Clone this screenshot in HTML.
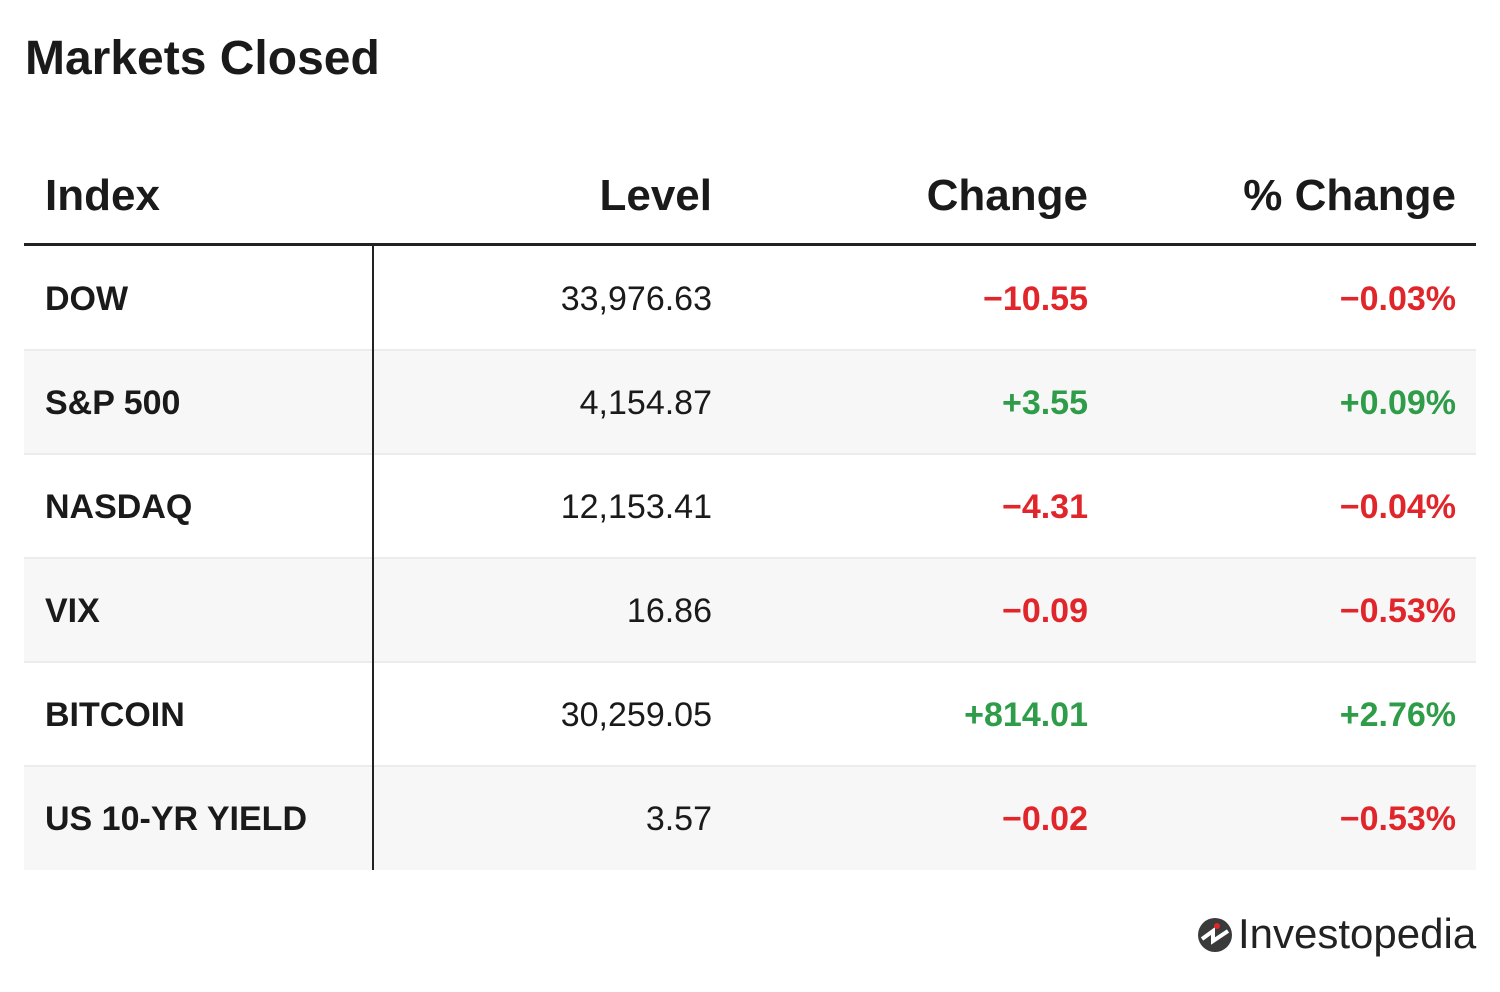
<!DOCTYPE html>
<html><head><meta charset="utf-8"><style>
body{margin:0;width:1500px;height:992px;background:#fff;font-family:"Liberation Sans",sans-serif;color:#1a1a1a;position:relative;overflow:hidden}
.t{position:absolute;white-space:nowrap;line-height:1}
h1{position:absolute;left:25px;top:35px;margin:0;font-size:48px;font-weight:bold;letter-spacing:0px;line-height:1}
.hd{font-size:44px;font-weight:bold;top:174px;letter-spacing:0px}
.row{position:absolute;left:24px;width:1452px;height:104px}
.g{background:#f7f7f7}
.sep{position:absolute;left:24px;width:1452px;height:2px;background:#ececec}
.c{font-size:34px;letter-spacing:0px}
.b{font-weight:bold}
.r{color:#e0262a;font-weight:bold}
.gr{color:#2e9c48;font-weight:bold}
.R{text-align:right}
</style></head><body>
<h1>Markets Closed</h1>
<div class="t hd" style="left:45px">Index</div>
<div class="t hd R" style="right:788px">Level</div>
<div class="t hd R" style="right:412px">Change</div>
<div class="t hd R" style="right:44px">% Change</div>

<div class="row" style="top:246px"></div>
<div class="row g" style="top:350px"></div>
<div class="row" style="top:454px"></div>
<div class="row g" style="top:558px"></div>
<div class="row" style="top:662px"></div>
<div class="row g" style="top:766px"></div>
<div class="sep" style="top:349px"></div>
<div class="sep" style="top:453px"></div>
<div class="sep" style="top:557px"></div>
<div class="sep" style="top:661px"></div>
<div class="sep" style="top:765px"></div>
<div style="position:absolute;left:24px;top:243px;width:1452px;height:3px;background:#222"></div>
<div style="position:absolute;left:372px;top:246px;width:2px;height:624px;background:#222"></div>

<div class="t c b" style="left:45px;top:282px">DOW</div>
<div class="t c R" style="right:788px;top:282px">33,976.63</div>
<div class="t c r R" style="right:412px;top:282px">−10.55</div>
<div class="t c r R" style="right:44px;top:282px">−0.03%</div>

<div class="t c b" style="left:45px;top:386px">S&amp;P 500</div>
<div class="t c R" style="right:788px;top:386px">4,154.87</div>
<div class="t c gr R" style="right:412px;top:386px">+3.55</div>
<div class="t c gr R" style="right:44px;top:386px">+0.09%</div>

<div class="t c b" style="left:45px;top:490px">NASDAQ</div>
<div class="t c R" style="right:788px;top:490px">12,153.41</div>
<div class="t c r R" style="right:412px;top:490px">−4.31</div>
<div class="t c r R" style="right:44px;top:490px">−0.04%</div>

<div class="t c b" style="left:45px;top:594px">VIX</div>
<div class="t c R" style="right:788px;top:594px">16.86</div>
<div class="t c r R" style="right:412px;top:594px">−0.09</div>
<div class="t c r R" style="right:44px;top:594px">−0.53%</div>

<div class="t c b" style="left:45px;top:698px">BITCOIN</div>
<div class="t c R" style="right:788px;top:698px">30,259.05</div>
<div class="t c gr R" style="right:412px;top:698px">+814.01</div>
<div class="t c gr R" style="right:44px;top:698px">+2.76%</div>

<div class="t c b" style="left:45px;top:802px">US 10-YR YIELD</div>
<div class="t c R" style="right:788px;top:802px">3.57</div>
<div class="t c r R" style="right:412px;top:802px">−0.02</div>
<div class="t c r R" style="right:44px;top:802px">−0.53%</div>

<svg style="position:absolute;left:1197px;top:917px" width="36" height="36" viewBox="0 0 36 36">
<circle cx="18" cy="18" r="17" fill="#3a3a3a"/>
<path d="M5 22 L16 14 L16 24 L31 14" stroke="#fff" stroke-width="4" fill="none"/>
<circle cx="20" cy="9" r="3" fill="#e0262a"/>
</svg>
<div class="t" style="left:1238px;top:913px;font-size:42px;color:#222;letter-spacing:0px">Investopedia</div>
</body></html>
